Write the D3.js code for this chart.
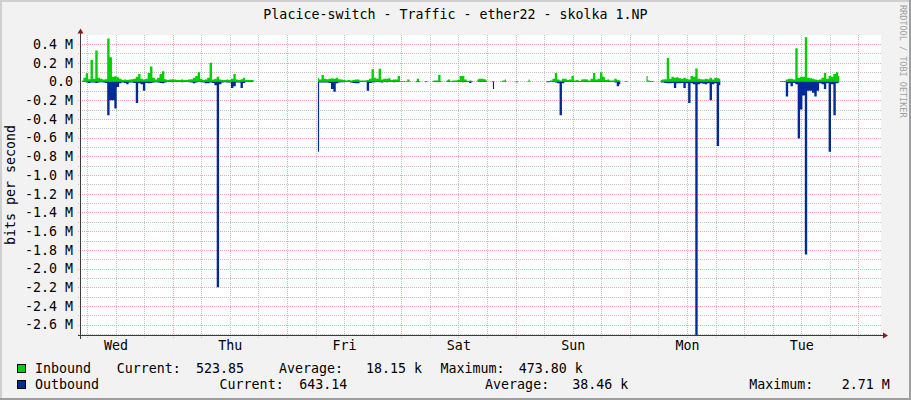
<!DOCTYPE html>
<html>

<head>
    <meta charset="utf-8">
    <style>
        body {
            margin: 0;
            background: #f2f2f2;
        }

        svg {
            display: block;
            font-family: 'DejaVu Sans Mono', 'Liberation Mono', monospace;
        }

        .minor {
            stroke: #c4c4c4;
            stroke-dasharray: 1, 1;
            shape-rendering: crispEdges;
        }

        .major {
            stroke: #f7a5a5;
            stroke-dasharray: 1, 1;
            shape-rendering: crispEdges;
        }

        .axis-line {
            stroke: #3a3a3a;
            shape-rendering: crispEdges;
        }
    </style>
</head>

<body>
    <svg width="911" height="400"></svg>

    <script src="https://d3js.org/d3.v7.min.js"></script>

    <script>
        // traffic in kbit/s, one sample per 30 min, null = no data
        // segStart = half-hour index (from Wed 00:00) of each block's first sample
        const segStart = [10, 109, 247, 303];

        const inWed = [10, 40, 88, 25, 230, 30, 330, 40, 30, 20,
            25, 460, 260, 50, 55, 45, 30, 15, 20, 15,
            20, 25, 30, 50, 80, 30, 20, 30, 90, 160,
            40, 20, 40, 80, 110, 25, 15, 20, 25, 20,
            15, 15, 20, 15, 15, 20, 25, 40, 60, 100,
            30, 15, 20, 40, 200, 20, 30, 50, 20, 15,
            15, 20, 15, 30, 80, 20, 15, 25, 40, 15,
            15, 15, 15];
        const outWed = [5, 5, 10, 15, 10, 12, 15, 10, 8, 10,
            15, 360, 200, 200, 290, 60, 20, 10, 15, 30,
            10, 10, 15, 230, 20, 30, 100, 15, 20, 15,
            10, 8, 10, 15, 20, 10, 5, 5, 8, 5,
            5, 5, 8, 5, 5, 8, 10, 20, 10, 5,
            8, 10, 20, 20, 10, 15, 40, 2200, 30, 10,
            8, 10, 10, 70, 50, 10, 10, 70, 15, 5,
            5, 5, 5];

        const inFri = [40, 20, 70, 30, 25, 30, 35, 30, 40, 25,
            20, 15, 10, 15, 10, 15, 20, 20, 10, 10,
            10, 15, 30, 130, 40, 30, 135, 20, 30, 30,
            35, 15, 20, 20, 60, 5, 5, 3, 20, 3,
            null, 5, 30, 5, null, 3, 3, null, 5, 10,
            10, 70, 5, null, 10, 20, 5, 10, 10, 15,
            60, 60, 20, 5, 10, 5, null, 20, 30, 30,
            25, 10, null, 2, 2, null, null, 5, 10, 20,
            null, null, null, 3, 3, null, null, null, 5, 20,
            null, null, null, null, null, null, 5, 5, 10, 30,
            90, 20, 10, 30, 30, 15, 20, 60, 10, 15,
            5, 20, 25, 20, 10, 30, 90, 20, 30, 100,
            50, 15, 20, 10, 10, 30, 15, 10, null, 3,
            3];
        const outFri = [750, 10, 10, 10, 10, 15, 80, 110, 20, 10,
            8, 8, 5, 5, 10, 15, 20, 20, 5, 5,
            5, 100, 15, 10, 8, 5, 8, 10, 5, 8,
            5, 5, 8, 5, 5, 3, 3, 3, 3, 3,
            null, 3, 5, 3, null, 8, 5, null, 3, 5,
            5, 5, 3, null, 5, 5, 3, 5, 5, 5,
            5, 8, 5, 5, 15, 5, null, 5, 5, 5,
            5, 5, null, 5, 80, null, null, 3, 3, 5,
            null, null, null, 8, 8, null, null, null, 3, 3,
            null, null, null, null, null, null, 8, 8, 5, 5,
            10, 20, 360, 20, 5, 5, 5, 5, 5, 5,
            5, 5, 5, 5, 5, 5, 5, 5, 5, 5,
            5, 5, 5, 5, 5, 10, 50, 30, null, 5,
            5];

        const inMon = [60, 10, 2, 2, null, null, 15, 20, 25, 250,
            30, 50, 40, 45, 35, 30, 40, 30, 20, 60,
            50, 140, 30, 25, 20, 30, 25, 40, 20, 40,
            35, 30];
        const outMon = [3, 3, 5, 5, null, null, 10, 10, 15, 20,
            20, 15, 70, 20, 20, 15, 70, 20, 230, 20,
            30, 2710, 30, 20, 25, 30, 20, 200, 30, 20,
            690, 40];

        const inTue = [3, 3, 5, 20, 30, 30, 20, 355, 40, 50,
            50, 474, 40, 35, 30, 20, 15, 20, 40, 90,
            30, 60, 50, 80, 100, 60];
        const outTue = [5, 5, 5, 160, 20, 50, 15, 30, 610, 300,
            150, 1850, 100, 100, 120, 160, 100, 20, 30, 80,
            20, 750, 30, 360, 20, 10];

        const yTicks = [0.4, 0.2, 0, -0.2, -0.4, -0.6, -0.8, -1.0, -1.2, -1.4,
            -1.6, -1.8, -2.0, -2.2, -2.4, -2.6];  // M
        const yTop = 497, yBottom = -2710;           // kbit/s

        const title = "Placice-switch - Traffic - ether22 - skolka 1.NP";
        const legendNames = ["Inbound", "Outbound"];
        const legendColors = ["#00cf00", "#002a97"];
        const legendCurrent = ["523.85", "643.14"];
        const legendAverage = ["18.15 k", "38.46 k"];
        const legendMaximum = ["473.80 k", "2.71 M"];

        let inSegs = [inWed, inFri, inMon, inTue];
        let outSegs = [outWed, outFri, outMon, outTue];

        let weekStart = new Date(2021, 2, 3); // a Wednesday
        let half = 30 * 60 * 1000;
        let viewStart = new Date(+weekStart + 9.5 * half);
        let viewEnd = d3.timeDay.offset(viewStart, 7);

        let pLeft = 81, pRight = 881, pTop = 35, pBottom = 335;
        let fontSize = 13.3;

        let svg = d3.select("svg");

        let x = d3.scaleTime()
            .domain([viewStart, viewEnd])
            .range([pLeft, pRight]);

        let y = d3.scaleLinear()
            .domain([yBottom, yTop])
            .range([pBottom, pTop]);

        // frame shading
        svg.append("rect").attr("width", 911).attr("height", 400).attr("fill", "#f2f2f2");
        svg.append("rect").attr("x", 0).attr("y", 0).attr("width", 911).attr("height", 2).attr("fill", "#cfcfcf");
        svg.append("rect").attr("x", 0).attr("y", 0).attr("width", 2).attr("height", 400).attr("fill", "#cfcfcf");
        svg.append("rect").attr("x", 909).attr("y", 0).attr("width", 2).attr("height", 400).attr("fill", "#9e9e9e");
        svg.append("rect").attr("x", 0).attr("y", 398).attr("width", 911).attr("height", 2).attr("fill", "#9e9e9e");

        // canvas
        svg.append("rect")
            .attr("x", pLeft).attr("y", pTop)
            .attr("width", pRight - pLeft).attr("height", pBottom - pTop)
            .attr("fill", "white");

        // grid
        let grid = svg.append("g");

        let yMinor = yTicks.map(v => v - 0.1);
        grid.selectAll(".hminor")
            .data(yMinor)
            .join("line")
            .attr("class", "minor")
            .attr("x1", pLeft - 3).attr("x2", pRight)
            .attr("y1", d => Math.round(y(d * 1000)) + 0.5)
            .attr("y2", d => Math.round(y(d * 1000)) + 0.5);

        let hours6 = d3.timeHour.every(6).range(viewStart, viewEnd).filter(d => d.getHours() != 0);
        grid.selectAll(".vminor")
            .data(hours6)
            .join("line")
            .attr("class", "minor")
            .attr("y1", pTop).attr("y2", pBottom + 3)
            .attr("x1", d => Math.round(x(d)) + 0.5)
            .attr("x2", d => Math.round(x(d)) + 0.5);

        grid.selectAll(".hmajor")
            .data(yTicks)
            .join("line")
            .attr("class", "major")
            .attr("x1", pLeft - 3).attr("x2", pRight)
            .attr("y1", d => Math.round(y(d * 1000)) + 0.5)
            .attr("y2", d => Math.round(y(d * 1000)) + 0.5);

        let days = d3.timeDay.range(viewStart, viewEnd);
        grid.selectAll(".vmajor")
            .data(days)
            .join("line")
            .attr("class", "major")
            .attr("y1", pTop).attr("y2", pBottom + 3)
            .attr("x1", d => Math.round(x(d)) + 0.5)
            .attr("x2", d => Math.round(x(d)) + 0.5);

        // data
        function toPoints(arr, i) {
            return arr.map((v, j) => ({ t: new Date(+weekStart + (segStart[i] + j) * half), v: v }));
        }

        let inArea = d3.area()
            .defined(d => d.v != null)
            .curve(d3.curveStep)
            .x(d => x(d.t))
            .y0(y(0))
            .y1(d => y(d.v));

        let outArea = d3.area()
            .defined(d => d.v != null)
            .curve(d3.curveStep)
            .x(d => x(d.t))
            .y0(y(0))
            .y1(d => y(-d.v));

        svg.append("g")
            .selectAll("path")
            .data(inSegs.map(toPoints))
            .join("path")
            .attr("d", inArea)
            .attr("fill", legendColors[0]);

        svg.append("g")
            .selectAll("path")
            .data(outSegs.map(toPoints))
            .join("path")
            .attr("d", outArea)
            .attr("fill", legendColors[1]);

        // axes lines + arrows
        svg.append("line").attr("class", "axis-line")
            .attr("x1", pLeft - 0.5).attr("x2", pLeft - 0.5)
            .attr("y1", pBottom + 4).attr("y2", pTop - 3);
        svg.append("line").attr("class", "axis-line")
            .attr("x1", pLeft - 3).attr("x2", pRight + 3)
            .attr("y1", pBottom + 0.5).attr("y2", pBottom + 0.5);

        svg.append("path")
            .attr("d", `M${pLeft - 3.5},${pTop - 1.5}L${pLeft + 2.5},${pTop - 1.5}L${pLeft - 0.5},${pTop - 6.5}Z`)
            .attr("fill", "#8b1a1a");
        svg.append("path")
            .attr("d", `M${pRight + 2},${pBottom - 2.5}L${pRight + 2},${pBottom + 3.5}L${pRight + 7},${pBottom + 0.5}Z`)
            .attr("fill", "#8b1a1a");

        // y labels
        let yAxis = svg.append("g")
            .attr("transform", `translate(${pLeft},0)`)
            .call(d3.axisLeft(y)
                .tickValues(yTicks.map(v => v * 1000))
                .tickFormat(d => d == 0 ? "0.0" : (d / 1000).toFixed(1) + " M")
                .tickSize(0)
                .tickPadding(8));
        yAxis.select(".domain").remove();
        yAxis.attr("font-family", null).attr("font-size", fontSize);
        yAxis.selectAll("text").attr("fill", "#000");

        // x labels (at noon of each day)
        let noons = days.map(d => d3.timeHour.offset(d, 12)).filter(d => d < viewEnd);
        noons.unshift(d3.timeHour.offset(d3.timeDay.floor(viewStart), 12));
        let xAxis = svg.append("g")
            .attr("transform", `translate(0,${pBottom})`)
            .call(d3.axisBottom(x)
                .tickValues(noons)
                .tickFormat(d3.timeFormat("%a"))
                .tickSize(0)
                .tickPadding(6));
        xAxis.select(".domain").remove();
        xAxis.attr("font-family", null).attr("font-size", fontSize);
        xAxis.selectAll("text").attr("fill", "#000");

        // title and side texts
        svg.append("text")
            .attr("x", 455.5).attr("y", 18.5)
            .attr("text-anchor", "middle")
            .attr("font-size", fontSize)
            .text(title);

        svg.append("text")
            .attr("transform", "translate(15,185) rotate(-90)")
            .attr("text-anchor", "middle")
            .attr("font-size", fontSize)
            .text("bits per second");

        svg.append("text")
            .attr("transform", "translate(899.5,5) rotate(90)")
            .attr("font-size", 8.5)
            .attr("fill", "#a0a0a0")
            .text("RRDTOOL / TOBI OETIKER");

        // legend
        let rowY = [373, 389];
        let cols = [
            [116.7, 196, 279, 366, 440.4, 518.8],
            [219.6, 299.2, 485.1, 572.3, 749.3, 841.7]
        ];

        let legend = svg.append("g").attr("font-size", fontSize);
        legendNames.forEach((name, i) => {
            legend.append("rect")
                .attr("x", 17.5).attr("y", rowY[i] - 8.5)
                .attr("width", 8).attr("height", 8)
                .attr("fill", legendColors[i])
                .attr("stroke", "#000");
            let parts = [name, "Current:", legendCurrent[i], "Average:", legendAverage[i], "Maximum:", legendMaximum[i]];
            let xs = [35].concat(cols[i]);
            legend.selectAll(".row" + i)
                .data(parts)
                .join("text")
                .attr("class", "row" + i)
                .attr("x", (d, j) => xs[j])
                .attr("y", rowY[i])
                .text(d => d);
        });
    </script>
</body>

</html>
